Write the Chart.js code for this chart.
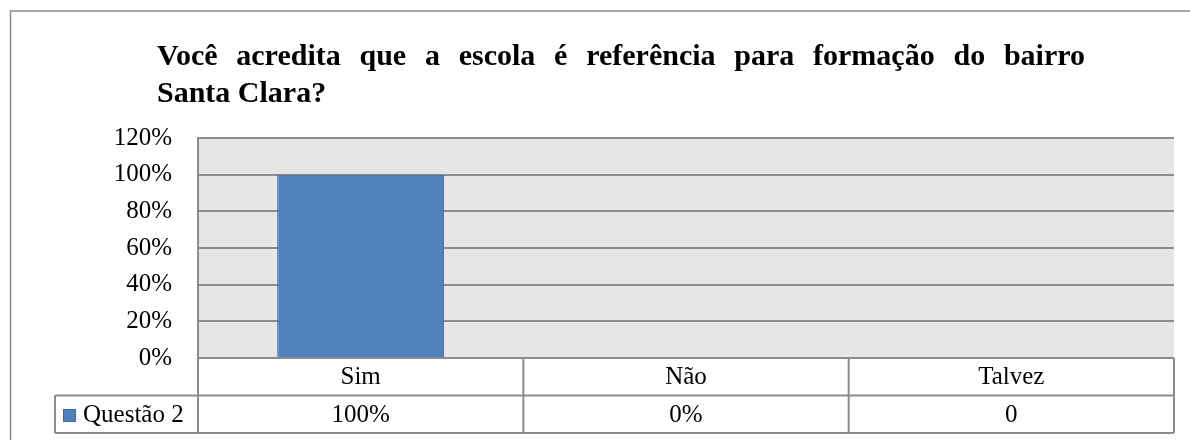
<!DOCTYPE html>
<html>
<head>
<meta charset="utf-8">
<script src="https://cdn.jsdelivr.net/npm/chart.js@4.4.0/dist/chart.umd.min.js"></script>
<style>
  body { margin: 0; background: #fff; }
  #wrap { width: 1190px; height: 440px; }
</style>
</head>
<body>
<div id="wrap"><canvas id="chart" width="1190" height="440"></canvas></div>
<script>
const categories = ['Sim', 'Não', 'Talvez'];
const seriesName = 'Questão 2';
const values = [100, 0, 0];
const tableText = ['100%', '0%', '0'];
const titleLines = ['Você acredita que a escola é referência para formação do bairro', 'Santa Clara?'];

const FONT = "'Liberation Serif', 'Times New Roman', serif";
const LINE = '#8c8c8c';
const BLUE = '#4f81bd';

// plot background, outer frame and the title
const backdrop = {
  id: 'backdrop',
  beforeDraw(chart) {
    const { ctx, chartArea: a } = chart;
    ctx.save();
    ctx.fillStyle = '#e6e6e6';
    ctx.fillRect(a.left, a.top, a.right - a.left, a.bottom - a.top);
    ctx.strokeStyle = LINE;
    ctx.lineWidth = 1.5;
    ctx.strokeRect(10.5, 11, 1300, 600);

    // justified first line, like the source document
    ctx.fillStyle = '#000';
    ctx.font = 'bold 30px ' + FONT;
    ctx.textBaseline = 'alphabetic';
    const x0 = 157, x1 = 1085;
    const words = titleLines[0].split(' ');
    const wordsW = words.reduce((s, w) => s + ctx.measureText(w).width, 0);
    const gap = (x1 - x0 - wordsW) / (words.length - 1);
    let x = x0;
    words.forEach(w => {
      ctx.fillText(w, x, 65);
      x += ctx.measureText(w).width + gap;
    });
    ctx.fillText(titleLines[1], x0, 102);
    ctx.restore();
  }
};

// data table under the plot
const dataTable = {
  id: 'dataTable',
  afterDraw(chart) {
    const { ctx, chartArea: a } = chart;
    const xs = chart.scales.x;
    const n = categories.length;
    const step = (a.right - a.left) / n;
    const rowH = 37.5;
    const r0 = a.bottom, r1 = r0 + rowH, r2 = r1 + rowH;
    ctx.save();
    ctx.strokeStyle = LINE;
    ctx.lineWidth = 2;
    ctx.beginPath();
    ctx.moveTo(a.left, r0); ctx.lineTo(a.right, r0);
    ctx.moveTo(55, r1); ctx.lineTo(a.right, r1);
    ctx.moveTo(55, r2); ctx.lineTo(a.right, r2);
    ctx.moveTo(55, r1); ctx.lineTo(55, r2);
    for (let i = 0; i <= n; i++) {
      const bx = a.left + i * step;
      ctx.moveTo(bx, r0); ctx.lineTo(bx, r2);
    }
    ctx.stroke();

    ctx.fillStyle = '#000';
    ctx.font = '25px ' + FONT;
    ctx.textAlign = 'center';
    ctx.textBaseline = 'middle';
    categories.forEach((c, i) => {
      const cx = xs.getPixelForValue(i);
      ctx.fillText(c, cx, (r0 + r1) / 2 + 1);
      ctx.fillText(tableText[i], cx, (r1 + r2) / 2 + 1);
    });

    // legend key
    ctx.fillStyle = BLUE;
    ctx.fillRect(63, 409, 13, 13);
    ctx.strokeStyle = '#3d6a99';
    ctx.lineWidth = 1;
    ctx.strokeRect(63.5, 409.5, 12, 12);
    ctx.fillStyle = '#000';
    ctx.textAlign = 'left';
    ctx.fillText(seriesName, 83, (r1 + r2) / 2 + 1);
    ctx.restore();
  }
};

new Chart(document.getElementById('chart'), {
  type: 'bar',
  data: {
    labels: categories,
    datasets: [{
      label: seriesName,
      data: values,
      backgroundColor: BLUE,
      borderColor: '#3d6a99',
      borderWidth: 1,
      barPercentage: 1,
      categoryPercentage: 0.513
    }]
  },
  options: {
    responsive: false,
    animation: false,
    layout: { padding: { left: 0, right: 16, top: 138, bottom: 82 } },
    plugins: {
      legend: { display: false },
      title: { display: false },
      tooltip: { enabled: false }
    },
    scales: {
      x: { display: false },
      y: {
        min: 0,
        max: 120,
        afterFit(scale) { scale.width = 198; },
        ticks: {
          stepSize: 20,
          padding: 26,
          color: '#000',
          font: { family: FONT, size: 25 },
          callback: v => v + '%'
        },
        grid: { color: LINE, lineWidth: 2, drawTicks: false },
        border: { display: true, color: LINE, width: 2 }
      }
    }
  },
  plugins: [backdrop, dataTable]
});
</script>
</body>
</html>
